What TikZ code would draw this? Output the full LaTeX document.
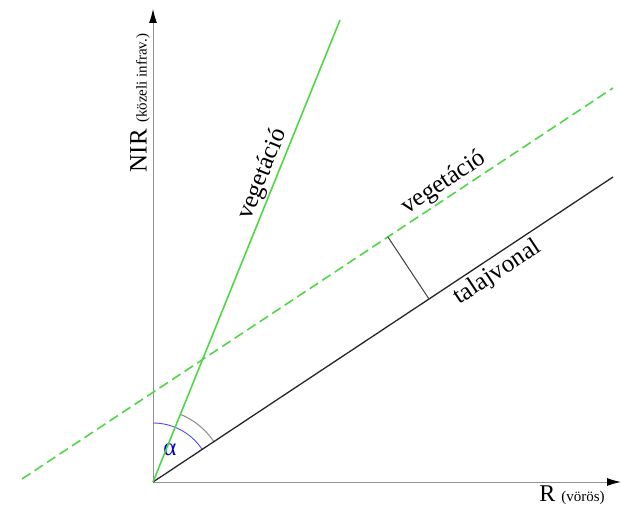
\documentclass[tikz,border=0pt]{standalone}
\usepackage{fontspec}
\setmainfont{Liberation Serif}
\usetikzlibrary{arrows.meta,calc,positioning}
\definecolor{leafgreen}{RGB}{80,215,70}

\begin{document}
\begin{tikzpicture}[x=1pt, y=1pt,
    % Styles for the axes and the lines
    axis style/.style={
        draw=gray!85,
        line width=1pt,
        -{Latex[black,length=14pt,width=8pt]}
    },
    soil style/.style={
        draw=black!85,
        line width=1.3pt
    },
    veg style/.style={
        draw=leafgreen,
        line width=1.6pt
    },
    vegdash style/.style={
        veg style,
        dash pattern=on 10pt off 5pt
    },
    line label/.style={
        font=\fontsize{25}{28}\selectfont,
        inner sep=1.5pt
    }
]

    % Frame of the picture
    \useasboundingbox (0,0) rectangle (621,506);

    % Points of the plot
    \coordinate (O) at (153,24);
    \coordinate (nirtip) at (153,497);
    \coordinate (rtip) at (621,24);
    \coordinate (vegtop) at (340,486);
    \coordinate (soilend) at (613,329);
    \coordinate (dashstart) at (22,27);
    \coordinate (dashend) at (613,418);

    % Axes
    \draw[axis style] (O) -- (nirtip);
    \draw[axis style] (O) -- (rtip);
    \node[font=\fontsize{25}{28}\selectfont, rotate=90, anchor=base, inner sep=0pt]
        (nirlabel) at (146.5,403) {NIR {\fontsize{15}{18}\selectfont (közeli infrav.)}};
    \node[font=\fontsize{24}{28}\selectfont, anchor=base, inner sep=0pt]
        (rlabel) at (572,5) {R {\fontsize{15}{18}\selectfont (vörös)}};

    % Angles at the origin
    \draw[blue!70, line width=0.9pt] ($(O)+(90:59)$) arc[start angle=90, end angle=33.55, radius=59];
    \draw[gray!85, line width=1.1pt] ($(O)+(67.96:73)$) arc[start angle=67.96, end angle=33.55, radius=73];
    \node[text=blue!80!black, font=\fontsize{25}{28}\selectfont] (alpha) at (170,56) {α};

    % Soil line and vegetation lines
    \draw[soil style] (O) -- node[line label, pos=0.73, sloped, below=2.5pt] (soillabel) {talajvonal} (soilend);
    \draw[veg style] (O) -- node[line label, pos=0.655, sloped, above] (veglabel) {vegetáció} (vegtop);
    \draw[vegdash style] (dashstart) -- node[line label, pos=0.727, sloped, above] (dashlabel) {vegetáció} (dashend);

    % Distance from the soil line
    \coordinate (foot) at ($(O)!0.6!(soilend)$);
    \coordinate (top) at ($(dashstart)!(foot)!(dashend)$);
    \draw[black!75, line width=1pt] (foot) -- (top);

\end{tikzpicture}
\end{document}
